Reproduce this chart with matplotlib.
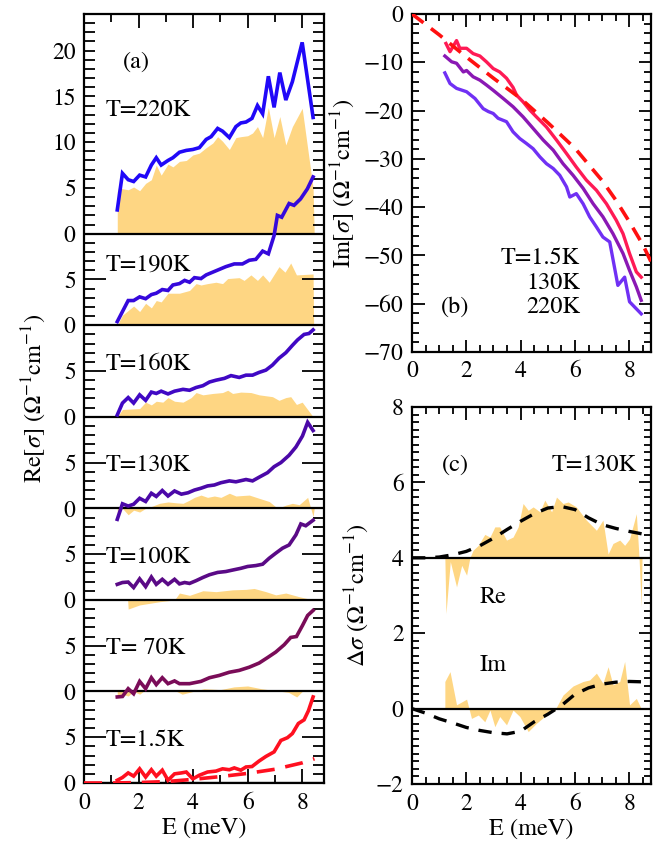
import matplotlib
matplotlib.use('Agg')
import matplotlib.pyplot as plt

plt.rcParams['font.family'] = 'STIXGeneral'
plt.rcParams['mathtext.fontset'] = 'stix'
plt.rcParams['font.size'] = 17

# ---------------- panel (a): Re[sigma], curves offset by 10 each ----------------
E_15 = [1.22,1.41,1.62,1.82,2.04,2.26,2.47,2.65,2.87,3.08,3.32,3.57,3.75,3.99,4.23,4.53,4.84,5.08,5.33,5.51,5.75,5.94,6.16,6.42,6.67,6.97,7.22,7.46,7.64,7.86,8.07,8.23,8.40]
Re_15 = [0.3,0.6,1.1,0.75,1.55,0.65,1.45,0.75,1.4,0.3,1.0,1.1,1.2,0.45,0.85,1.2,1.3,1.55,1.45,1.65,1.4,1.75,1.8,2.4,2.9,3.4,4.65,4.95,5.4,6.5,6.9,7.9,9.4]
E_fit_a = [0.0,1.0,2.0,3.0,4.0,5.0,6.0,7.0,8.0,8.45]
Re_fit_a = [0.0,0.0,0.05,0.15,0.4,0.7,1.05,1.5,2.2,2.65]

E_70 = [1.22,1.41,1.62,1.82,2.04,2.26,2.47,2.65,2.87,3.08,3.32,3.50,3.87,4.29,4.60,4.96,5.33,5.69,6.06,6.42,6.73,7.03,7.34,7.58,7.79,8.01,8.20,8.40]
Re_70 = [-0.6,-0.55,0.3,-0.25,1.1,0.3,1.5,0.75,1.5,0.85,1.15,0.85,0.85,1.1,1.5,1.75,2.1,2.3,2.65,3.1,3.7,4.3,5.1,5.9,6.0,7.2,8.3,8.85]
Ef_70 = [1.22,1.41,1.62,1.82,2.04,2.26,2.47,2.65,3.00,3.40,3.60,4.00,4.40,5.00,5.50,6.00,6.50,7.00,7.50,7.80,8.00,8.40]
F_70 = [-0.6,-0.3,-0.5,0.0,-0.3,0.2,0.0,0.1,0.2,0.0,-0.3,0.0,0.3,0.2,0.5,0.6,0.3,0.1,-0.1,-0.6,0.0,0.0]

E_100 = [1.22,1.41,1.62,1.82,2.04,2.26,2.47,2.65,2.87,3.08,3.32,3.50,3.69,3.87,4.11,4.36,4.60,4.90,5.20,5.51,5.75,6.00,6.30,6.55,6.79,7.03,7.28,7.52,7.77,7.95,8.13,8.40]
Re_100 = [1.7,1.9,1.95,1.35,2.3,1.45,2.5,1.7,2.25,1.7,2.25,1.75,1.9,1.8,2.1,2.45,2.75,3.0,3.1,3.3,3.45,3.65,3.75,3.9,4.55,5.1,5.65,6.0,7.1,8.3,8.1,8.7]
Ef_100 = [1.60,1.62,2.04,2.77,3.32,3.50,3.87,4.36,4.84,5.45,5.94,6.24,6.67,7.03,7.40,7.89,8.40]
F_100 = [0.0,-1.0,-0.55,-0.2,0.0,0.75,0.5,1.0,0.9,1.1,1.15,1.25,0.9,0.55,0.75,0.35,0.0]

E_130 = [1.22,1.41,1.62,1.82,2.04,2.26,2.47,2.65,2.87,3.08,3.32,3.57,3.81,4.05,4.29,4.53,4.78,5.02,5.33,5.57,5.94,6.18,6.42,6.73,6.97,7.22,7.52,7.77,8.01,8.20,8.40]
Re_130 = [-1.2,0.5,0.25,0.45,1.1,0.75,1.65,1.3,1.95,1.35,1.9,1.55,1.7,2.0,2.2,2.45,2.55,2.8,3.0,2.9,3.15,3.0,3.4,3.9,4.55,5.0,5.8,6.7,7.9,9.4,8.5]
Ef_130 = [1.22,1.41,1.62,1.82,2.04,2.26,2.47,2.77,3.08,3.40,3.63,3.87,4.05,4.29,4.53,4.78,5.02,5.33,5.57,5.80,6.06,6.42,6.79,7.10,7.40,7.64,7.89,8.20,8.40,8.44]
F_130 = [-0.9,0.0,-0.7,-0.2,-0.4,0.0,0.2,0.55,0.7,0.6,0.55,0.9,1.2,1.45,1.2,1.35,1.2,1.65,1.35,1.4,1.45,1.1,0.75,0.0,0.35,0.55,0.4,1.2,-0.9,0.0]

E_160 = [1.22,1.41,1.62,1.82,2.04,2.26,2.47,2.65,2.83,3.08,3.32,3.63,3.87,4.11,4.36,4.60,4.84,5.15,5.39,5.69,5.94,6.18,6.42,6.67,6.91,7.15,7.40,7.64,7.83,8.07,8.25,8.40]
Re_160 = [0.2,1.5,2.1,1.5,2.4,1.8,2.7,2.55,2.8,2.5,2.8,3.0,2.9,3.2,3.4,3.8,4.0,4.2,4.5,4.3,4.55,4.55,4.85,5.1,5.65,6.4,7.0,7.8,8.4,9.0,9.1,9.5]
Ef_160 = [1.22,1.41,2.04,2.26,2.47,2.65,2.89,3.08,3.32,3.63,3.93,4.11,4.36,4.72,5.08,5.27,5.45,5.75,6.12,6.42,6.91,7.15,7.40,7.58,7.79,8.00,8.40]
F_160 = [0.0,0.8,0.9,1.6,1.3,1.7,1.6,2.1,1.7,1.6,2.1,2.65,2.4,2.55,2.65,2.9,2.55,2.7,2.65,2.4,2.2,1.8,2.1,2.2,1.35,1.6,0.0]

E_190 = [1.22,1.62,1.82,2.04,2.26,2.47,2.65,2.87,3.08,3.26,3.50,3.69,3.87,4.05,4.29,4.48,4.72,4.96,5.20,5.51,5.81,6.06,6.30,6.55,6.76,6.97,7.09,7.25,7.52,7.70,7.94,8.19,8.40]
Re_190 = [0.4,2.7,2.7,3.1,2.9,3.35,3.5,3.9,3.8,4.4,4.55,4.9,4.7,5.2,5.1,5.5,5.8,6.1,6.4,6.7,6.7,7.1,7.2,8.1,7.8,9.8,12.0,11.8,13.3,13.1,13.8,14.9,16.2]
Ef_190 = [1.22,1.41,1.82,2.04,2.26,2.47,2.65,2.83,3.08,3.50,3.87,4.11,4.29,4.53,4.84,5.08,5.27,5.69,5.87,6.12,6.36,6.55,6.79,7.15,7.37,7.58,7.79,8.40,8.42]
F_190 = [0.0,1.1,2.1,1.5,2.4,1.9,2.7,2.55,3.5,3.5,3.8,4.55,4.4,4.55,4.7,4.55,5.1,5.2,4.9,5.5,4.9,5.5,4.7,6.4,5.8,6.8,5.5,5.6,0.0]

E_220 = [1.22,1.41,1.62,1.82,2.04,2.26,2.47,2.65,2.83,3.08,3.26,3.50,3.75,3.99,4.23,4.48,4.66,4.90,5.08,5.33,5.57,5.75,5.94,6.16,6.36,6.55,6.76,6.97,7.18,7.40,7.64,8.00,8.40]
Re_220 = [2.6,6.6,5.9,5.7,6.4,6.2,7.5,8.3,7.5,8.0,8.3,8.9,9.1,9.2,9.4,10.3,10.6,11.5,11.2,10.5,11.7,12.1,12.2,12.6,14.0,13.1,17.2,13.8,17.6,14.6,16.6,20.9,12.7]
Ef_220 = [1.22,1.26,1.62,1.82,2.04,2.26,2.47,2.65,2.83,3.08,3.26,3.50,3.75,3.99,4.23,4.48,4.72,4.90,5.08,5.33,5.57,5.75,6.00,6.18,6.36,6.55,6.76,6.97,7.18,7.40,7.64,8.00,8.40,8.44]
F_220 = [4.6,5.0,4.8,5.1,4.7,5.5,5.9,7.5,6.4,7.6,7.3,7.9,8.0,8.6,8.8,9.4,9.9,10.6,10.1,9.2,10.5,10.6,10.7,11.0,11.7,10.5,13.8,10.5,12.8,9.7,11.7,13.7,5.0,0.0]

labels_a = ['T=1.5K', 'T= 70K', 'T=100K', 'T=130K', 'T=160K', 'T=190K', 'T=220K']
offsets_a = [0, 10, 20, 30, 40, 50, 60]
label_y_a = [4.7, 4.7, 4.7, 4.7, 5.7, 6.6, 13.5]
colors_a = ['#ff1020', '#7a0c58', '#5a0a86', '#4b08a8', '#4008c4', '#3508dc', '#2008f8']

# ---------------- panel (b): Im[sigma] ----------------
E_b15 = [1.25,1.40,1.64,1.76,2.01,2.25,2.50,2.74,2.99,3.23,3.48,3.72,3.85,4.09,4.34,4.58,4.95,5.32,5.69,6.05,6.42,6.79,7.16,7.52,7.77,8.01,8.26,8.44]
Im_b15 = [-6.1,-7.8,-5.5,-7.1,-7.1,-8.2,-8.7,-9.9,-11.3,-12.0,-13.3,-15.2,-16.8,-18.2,-19.9,-21.3,-23.4,-26.1,-28.9,-31.7,-34.4,-36.5,-39.3,-42.7,-45.5,-49.6,-53.4,-54.5]
E_b130 = [1.21,1.46,1.64,1.89,2.01,2.25,2.50,2.74,2.99,3.36,3.72,4.09,4.46,4.83,5.20,5.56,5.93,6.30,6.67,7.03,7.40,7.77,8.01,8.26,8.44]
Im_b130 = [-8.7,-9.9,-10.2,-12.0,-11.7,-13.0,-13.7,-14.7,-15.8,-17.5,-19.2,-21.3,-23.7,-26.1,-28.2,-31.0,-33.4,-36.1,-39.3,-42.0,-45.5,-49.6,-53.1,-56.5,-59.3]
E_b220 = [1.21,1.40,1.64,2.01,2.32,2.62,2.81,2.99,3.17,3.48,3.72,3.97,4.21,4.46,4.71,4.95,5.20,5.44,5.69,5.81,6.05,6.30,6.54,6.79,7.03,7.28,7.58,7.83,8.01,8.44]
Im_b220 = [-12.2,-14.4,-15.4,-16.1,-17.5,-19.6,-20.2,-20.6,-21.6,-22.3,-24.4,-25.8,-26.8,-27.9,-29.6,-31.0,-32.0,-33.4,-35.8,-37.9,-37.2,-39.3,-42.0,-44.1,-46.2,-47.2,-56.2,-54.5,-59.6,-62.1]
E_bfit = [0.0,1.0,2.0,3.0,4.0,5.0,6.0,7.0,7.5,8.0,8.5,8.8]
Im_bfit = [0.0,-4.3,-8.9,-13.3,-17.5,-22.5,-27.8,-34.5,-38.5,-43.0,-47.8,-51.3]

# ---------------- panel (c): delta sigma at 130K ----------------
E_cre = [1.21,1.25,1.41,1.64,1.83,2.01,2.13,2.25,2.44,2.68,2.87,3.05,3.23,3.48,3.72,3.91,4.09,4.28,4.46,4.71,4.89,5.14,5.32,5.56,5.75,6.05,6.42,6.79,7.03,7.22,7.40,7.65,7.83,8.01,8.26,8.36,8.44,8.47]
dRe = [0.0,-1.48,-0.1,-0.77,-0.2,-0.46,0.0,0.2,0.33,0.62,0.55,0.82,0.82,0.47,0.55,0.82,1.44,1.26,1.35,1.22,1.53,1.22,1.61,1.44,1.48,1.35,1.0,0.73,1.0,0.1,0.38,0.47,0.33,0.5,1.17,0.0,-1.3,0.0]
E_cim = [1.21,1.40,1.64,2.01,2.19,2.44,2.68,2.87,3.05,3.23,3.48,3.72,3.97,4.28,4.58,4.95,5.26,5.56,5.93,6.30,6.54,6.79,7.03,7.22,7.40,7.65,7.83,8.01,8.26,8.44]
dIm = [0.72,0.98,0.1,0.25,-0.26,-0.17,-0.35,-0.04,-0.48,-0.21,-0.43,-0.04,-0.21,-0.61,-0.39,-0.17,-0.04,0.36,0.6,0.72,0.76,0.94,0.67,1.11,0.63,0.72,1.25,0.1,0.27,0.0]
E_cfit = [0.0,0.5,1.0,1.5,2.0,2.5,3.0,3.5,4.0,4.5,5.0,5.5,6.0,6.5,7.0,7.5,8.0,8.5,8.8]
dRe_fit = [0.0,0.0,0.02,0.08,0.17,0.32,0.52,0.75,0.97,1.17,1.32,1.36,1.28,1.06,0.88,0.78,0.7,0.63,0.6]
dIm_fit = [0.0,-0.12,-0.27,-0.38,-0.5,-0.58,-0.64,-0.67,-0.6,-0.35,-0.15,0.08,0.38,0.55,0.65,0.7,0.72,0.71,0.7]

fillcol = '#fed683'
fs = 17.5

fig = plt.figure(figsize=(6.7, 8.46), dpi=100)

# ===== (a) =====
ax = fig.add_axes([84/670, 1-783/846, 240/670, 769/846])
lines_a = [(E_15, Re_15), (E_70, Re_70), (E_100, Re_100), (E_130, Re_130),
           (E_160, Re_160), (E_190, Re_190), (E_220, Re_220)]
fills_a = [None, (Ef_70, F_70), (Ef_100, F_100), (Ef_130, F_130),
           (Ef_160, F_160), (Ef_190, F_190), (Ef_220, F_220)]
for k, off in enumerate(offsets_a):
    if fills_a[k] is not None:
        ef, fv = fills_a[k]
        ax.fill_between(ef, off, [off + v for v in fv], color=fillcol, lw=0, zorder=1)
    ax.axhline(off, color='k', lw=1.6, zorder=2)
    e, r = lines_a[k]
    ax.plot(e, [off + v for v in r], color=colors_a[k], lw=2.6, zorder=3,
            solid_joinstyle='miter')
    ax.text(0.8, off + label_y_a[k], labels_a[k], ha='left', va='center', fontsize=fs)
ax.plot(E_fit_a, Re_fit_a, color='#ff1020', lw=2.6, dashes=(5, 3), zorder=3)
ax.text(1.93, 78.7, '(a)', ha='center', va='center', fontsize=fs)

ax.set_xlim(0, 8.8)
ax.set_ylim(0, 84)
ax.set_xticks([0, 2, 4, 6, 8])
ax.set_xticks([1, 3, 5, 7], minor=True)
major_y = [5, 15, 25, 35, 45, 55]
ax.set_yticks(major_y, labels=['5'] * len(major_y))
minor_y = [v for v in range(0, 85) if v not in major_y]
top_lab = {60: '0', 65: '5', 70: '10', 75: '15', 80: '20'}
minor_lab = []
for v in minor_y:
    if v in top_lab:
        minor_lab.append(top_lab[v])
    elif v % 10 == 0 and v < 60:
        minor_lab.append('0')
    else:
        minor_lab.append('')
ax.set_yticks(minor_y, labels=minor_lab, minor=True)
ax.tick_params(which='both', direction='in', top=True, right=True, width=1.3, labelsize=17)
ax.tick_params(axis='y', which='major', length=16, pad=6)
ax.tick_params(axis='y', which='minor', length=8, pad=6)
ax.tick_params(axis='x', which='major', length=10, pad=7)
ax.tick_params(axis='x', which='minor', length=6)
for s in ax.spines.values():
    s.set_linewidth(1.6)
ax.set_xlabel('E (meV)', fontsize=fs, labelpad=2)
ax.set_ylabel(r'Re[$\sigma$] ($\Omega^{-1}$cm$^{-1}$)', fontsize=fs)
ax.yaxis.set_label_coords(-0.15, 0.5)

# ===== (b) =====
axb = fig.add_axes([412/670, 1-352/846, 239/670, 338/846])
axb.plot(E_bfit, Im_bfit, color='#ff1010', lw=2.6, dashes=(4, 2.6), zorder=4)
axb.plot(E_b15, Im_b15, color='#ff1a55', lw=2.4, zorder=3)
axb.plot(E_b130, Im_b130, color='#8a18b4', lw=2.4, zorder=3)
axb.plot(E_b220, Im_b220, color='#7030f4', lw=2.4, zorder=3)
axb.text(6.18, -50.5, 'T=1.5K', ha='right', va='center', fontsize=fs)
axb.text(6.18, -55.7, '130K', ha='right', va='center', fontsize=fs)
axb.text(6.18, -60.7, '220K', ha='right', va='center', fontsize=fs)
axb.text(1.58, -60.7, '(b)', ha='center', va='center', fontsize=fs)
axb.set_xlim(0, 8.8)
axb.set_ylim(-70, 0)
axb.set_xticks([0, 2, 4, 6, 8])
axb.set_xticks([0.5, 1, 1.5, 2.5, 3, 3.5, 4.5, 5, 5.5, 6.5, 7, 7.5, 8.5], minor=True)
axb.set_yticks([0, -10, -20, -30, -40, -50, -60, -70])
axb.set_yticks([v for v in range(-70, 1, 2) if v % 10 != 0], minor=True)
axb.tick_params(which='both', direction='in', top=True, right=True, width=1.3, labelsize=17)
axb.tick_params(which='major', length=9, pad=6)
axb.tick_params(which='minor', length=5)
for s in axb.spines.values():
    s.set_linewidth(1.6)
axb.set_ylabel(r'Im[$\sigma$] ($\Omega^{-1}$cm$^{-1}$)', fontsize=fs)
axb.yaxis.set_label_coords(-0.23, 0.5)

# ===== (c) =====
axc = fig.add_axes([412/670, 1-784/846, 239/670, 377/846])
axc.fill_between(E_cre, 4, [4 + v for v in dRe], color=fillcol, lw=0, zorder=1)
axc.fill_between(E_cim, 0, dIm, color=fillcol, lw=0, zorder=1)
axc.axhline(4, color='k', lw=1.6, zorder=2)
axc.axhline(0, color='k', lw=1.6, zorder=2)
axc.plot(E_cfit, [4 + v for v in dRe_fit], color='k', lw=2.4, dashes=(4, 3), zorder=3)
axc.plot(E_cfit, dIm_fit, color='k', lw=2.4, dashes=(4, 3), zorder=3)
axc.text(1.58, 6.46, '(c)', ha='center', va='center', fontsize=fs)
axc.text(8.27, 6.46, 'T=130K', ha='right', va='center', fontsize=fs)
axc.text(2.98, 2.96, 'Re', ha='center', va='center', fontsize=fs)
axc.text(2.98, 1.16, 'Im', ha='center', va='center', fontsize=fs)
axc.set_xlim(0, 8.8)
axc.set_ylim(-2, 8)
axc.set_xticks([0, 2, 4, 6, 8])
axc.set_xticks([0.5, 1, 1.5, 2.5, 3, 3.5, 4.5, 5, 5.5, 6.5, 7, 7.5, 8.5], minor=True)
axc.set_yticks([-2, 0, 2, 4, 6, 8])
axc.set_yticks([v / 5 for v in range(-10, 41) if v % 10 != 0], minor=True)
axc.tick_params(which='both', direction='in', top=True, right=True, width=1.3, labelsize=17)
axc.tick_params(which='major', length=9, pad=6)
axc.tick_params(axis='x', which='major', pad=7)
axc.tick_params(which='minor', length=5)
for s in axc.spines.values():
    s.set_linewidth(1.6)
axc.set_xlabel('E (meV)', fontsize=fs, labelpad=2)
axc.set_ylabel(r'$\Delta\sigma$ ($\Omega^{-1}$cm$^{-1}$)', fontsize=fs)
axc.yaxis.set_label_coords(-0.17, 0.5)

fig.savefig('out.png', dpi=100)
